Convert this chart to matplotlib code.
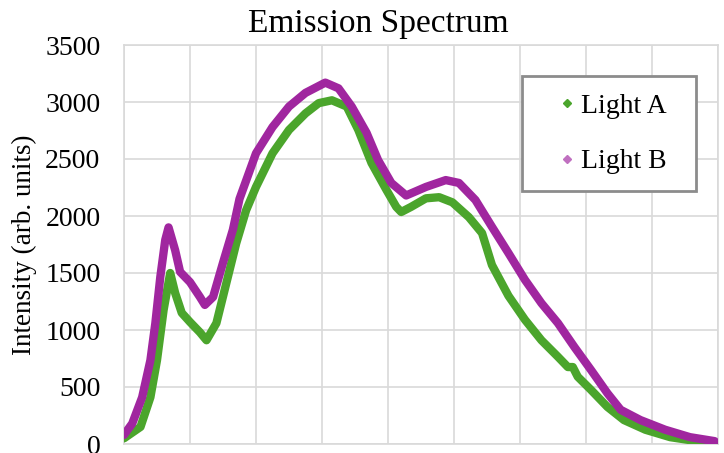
import matplotlib
matplotlib.use("Agg")
from matplotlib import pyplot as plt
from matplotlib.lines import Line2D
from matplotlib.patches import Rectangle

plt.rcParams["font.family"] = ["Liberation Serif", "DejaVu Serif"]

# Wavelength (nm) and intensity
wl_a = [380, 390, 396, 400, 404, 408, 411, 415, 420, 426, 430, 436, 442, 448,
        454, 460, 470, 480, 490, 498, 506, 515, 522, 530, 539, 545, 548, 554,
        563, 571, 579, 589, 597, 603, 613, 623, 633, 643, 649, 652, 655, 663,
        673, 683, 696, 711, 727, 739]
light_a = [50, 150, 410, 735, 1175, 1500, 1325, 1150, 1070, 980, 910, 1060,
           1410, 1760, 2050, 2255, 2550, 2755, 2900, 2990, 3015, 2960, 2755,
           2465, 2230, 2080, 2035, 2080, 2155, 2165, 2120, 1990, 1850, 1570,
           1300, 1090, 910, 765, 675, 675, 590, 475, 325, 210, 125, 60, 25, 10]

wl_b = [380, 385, 391, 396, 399, 402, 405, 407, 411, 414, 420, 426, 429, 434,
        440, 446, 450, 460, 470, 480, 490, 502, 510, 518, 527, 534, 542, 551,
        563, 575, 583, 593, 603, 613, 623, 633, 643, 653, 663, 673, 681, 693,
        708, 723, 738]
light_b = [80, 180, 410, 735, 1060, 1465, 1790, 1900, 1700, 1510, 1420, 1290,
           1220, 1290, 1590, 1880, 2150, 2550, 2780, 2960, 3080, 3170, 3120,
           2960, 2730, 2490, 2290, 2180, 2255, 2315, 2290, 2140, 1905, 1675,
           1440, 1235, 1060, 850, 650, 445, 300, 210, 125, 60, 25]

GREEN = "#4ba52c"
PURPLE = "#a0269f"
GRID = "#d9d9d9"

fig = plt.figure(figsize=(7.24, 4.53), dpi=100)
ax = fig.add_axes([124 / 724, 9 / 453, 594 / 724, 399 / 453])

ax.plot(wl_a, light_a, color=GREEN, lw=6,
        solid_joinstyle="round", solid_capstyle="round", zorder=3)
ax.plot(wl_b, light_b, color=PURPLE, lw=6,
        solid_joinstyle="round", solid_capstyle="round", zorder=4)

ax.set_xlim(380, 740)
ax.set_ylim(0, 3500)
ax.set_xticks(range(380, 741, 40))
ax.set_yticks(range(0, 3501, 500))
ax.set_xticklabels([])
ax.tick_params(length=0, labelsize=20, pad=17)
ax.grid(True, color=GRID, lw=1.2)
ax.set_axisbelow(True)
for sp in ax.spines.values():
    sp.set_color(GRID)
    sp.set_linewidth(1.2)

ax.set_ylabel("Intensity (arb. units)", fontsize=19.5)
ax.yaxis.set_label_coords(-0.146, 0.5)

fig.text(378 / 724, 1 - 32 / 453, "Emission Spectrum", fontsize=24,
         ha="center", va="baseline")

# legend: marker-only handles inside a grey box
ax.add_patch(Rectangle((0.670, 0.634), 0.293, 0.288, transform=ax.transAxes,
                       fill=True, facecolor="white", edgecolor="#8c8c8c",
                       lw=2, zorder=5))
handles = [Line2D([], [], ls="none", marker="D", ms=4.5, color=GREEN),
           Line2D([], [], ls="none", marker="D", ms=4.5, color="#c070c0")]
leg = ax.legend(handles, ["Light A", "Light B"], loc="center",
                bbox_to_anchor=(0.823, 0.777), frameon=False, fontsize=20,
                borderpad=0, handlelength=0.6, handletextpad=0.2,
                labelspacing=1.08)
leg.set_zorder(6)

fig.savefig("out.png", dpi=100)
